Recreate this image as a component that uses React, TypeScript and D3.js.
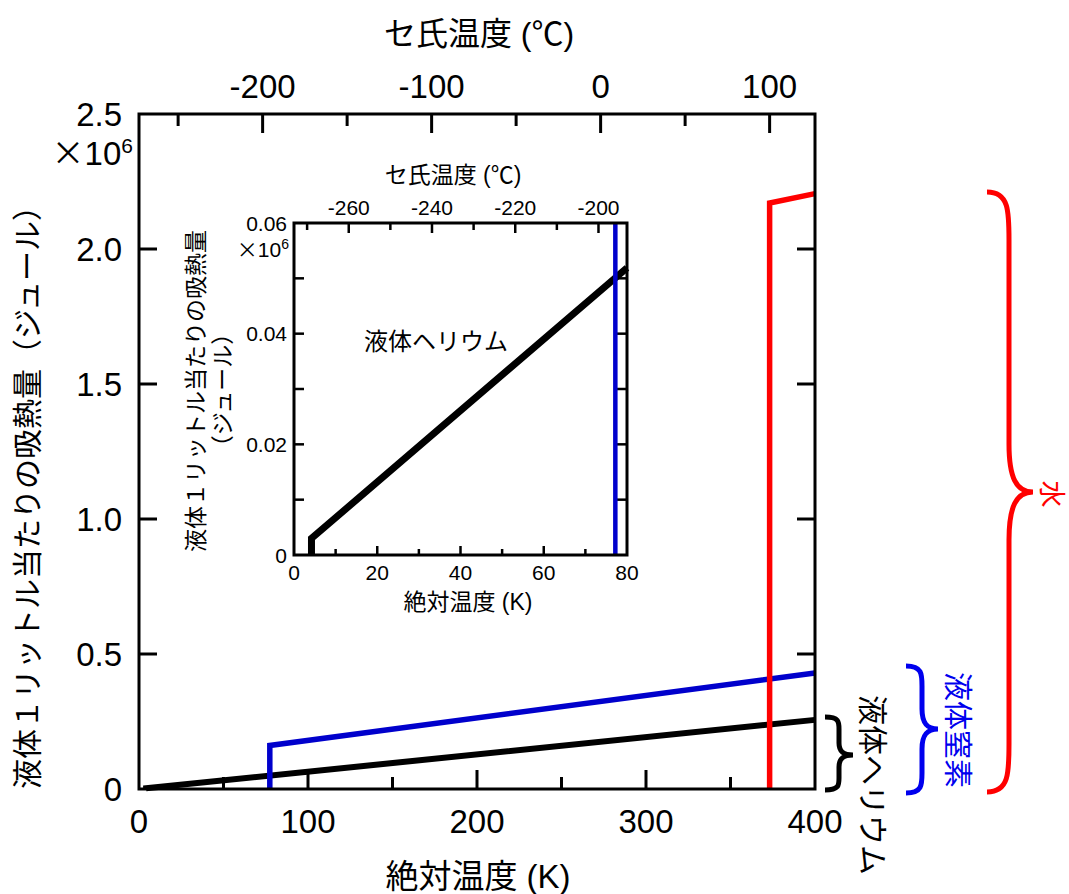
import React, { useEffect, useRef } from "react";
import * as d3 from "d3";

const W = 1069;
const H = 894;

// main chart series: [kelvin, joule (x10^6)]
const heliumMain: [number, number][] = [
  [4.2, 0],
  [4.2, 0.003],
  [400, 0.256],
];
const nitrogenMain: [number, number][] = [
  [77.4, 0],
  [77.4, 0.161],
  [400, 0.43],
];
const waterMain: [number, number][] = [
  [373.15, 0],
  [373.15, 2.17],
  [400, 2.205],
];

// inset series
const heliumInset: [number, number][] = [
  [4.2, 0],
  [4.2, 0.003],
  [80, 0.0519],
];
const nitrogenInset: [number, number][] = [
  [77.2, 0],
  [77.2, 0.06],
];

// tick values / labels
const mainYTicks = [0, 0.5, 1.0, 1.5, 2.0, 2.5];
const mainYLabels = ["0", "0.5", "1.0", "1.5", "2.0", "2.5"];
const mainXTicks = [0, 100, 200, 300, 400];
const mainCelsiusTicks = [-200, -100, 0, 100];
const insetXTicks = [0, 20, 40, 60, 80];
const insetYTicks = [0, 0.02, 0.04, 0.06];
const insetYLabels = ["0", "0.02", "0.04", "0.06"];
const insetCelsiusTicks = [-260, -240, -220, -200];

const FONT = "'Liberation Sans', Arial, 'Noto Sans CJK JP', sans-serif";
const CJK = "'Noto Sans CJK JP', sans-serif";
const K0 = 273.15;

type Sel = d3.Selection<SVGGElement, unknown, null, undefined>;

/**
 * draws a curly brace that opens to the left and points right
 */
const bracePath = (
  xl: number,
  xm: number,
  xr: number,
  y0: number,
  yt: number,
  y1: number,
  r: number
) => {
  const p = d3.path();
  p.moveTo(xl, y0);
  p.bezierCurveTo(xm, y0, xm, y0 + r * 0.4, xm, y0 + r);
  p.lineTo(xm, yt - r);
  p.bezierCurveTo(xm, yt - r * 0.3, xm + (xr - xm) * 0.3, yt, xr, yt);
  p.bezierCurveTo(xm + (xr - xm) * 0.3, yt, xm, yt + r * 0.3, xm, yt + r);
  p.lineTo(xm, y1 - r);
  p.bezierCurveTo(xm, y1 - r * 0.4, xm, y1, xl, y1);
  return p.toString();
};

const App = () => {
  const svgRef = useRef<SVGSVGElement>(null);

  useEffect(() => {
    const svg = d3.select(svgRef.current);
    svg.selectChildren().remove();
    const root: Sel = svg.append("g");

    // vertical / horizontal tick helper
    const ticks = (
      g: Sel,
      pos: number[],
      orient: "top" | "bottom" | "left" | "right",
      edge: number,
      len: number,
      sw: number
    ) => {
      g.append("g")
        .selectAll("line")
        .data(pos)
        .enter()
        .append("line")
        .attr("stroke", "black")
        .attr("stroke-width", sw)
        .attr("x1", (d) => (orient === "top" || orient === "bottom" ? d : edge))
        .attr("x2", (d) =>
          orient === "top" || orient === "bottom"
            ? d
            : orient === "left"
            ? edge + len
            : edge - len
        )
        .attr("y1", (d) => (orient === "left" || orient === "right" ? d : edge))
        .attr("y2", (d) =>
          orient === "left" || orient === "right"
            ? d
            : orient === "top"
            ? edge + len
            : edge - len
        );
    };

    // title with a wide ℃ sign
    const celsiusTitle = (g: Sel, cx: number, cy: number, fs: number) => {
      const t = g
        .append("text")
        .attr("x", cx)
        .attr("y", cy)
        .attr("text-anchor", "middle")
        .attr("font-size", fs);
      t.append("tspan").text("セ氏温度 (");
      t.append("tspan").attr("font-family", CJK).text("℃");
      t.append("tspan").text(")");
    };

    // "×10^6" multiplier
    const multiplier = (g: Sel, xr: number, yb: number, fs: number, sup: number, dy: number) => {
      const t = g
        .append("text")
        .attr("x", xr)
        .attr("y", yb)
        .attr("text-anchor", "end")
        .attr("font-size", fs);
      t.append("tspan").attr("font-family", CJK).text("×");
      t.append("tspan").text("10");
      t.append("tspan").attr("font-size", sup).attr("dy", dy).text("6");
    };

    // ---------------- main chart ----------------
    const m = { left: 139, right: 815, top: 114, bottom: 789 };
    const x = d3.scaleLinear().domain([0, 400]).range([m.left, m.right]);
    const y = d3.scaleLinear().domain([0, 2.5]).range([m.bottom, m.top]);
    const line = d3
      .line<[number, number]>()
      .x((d) => x(d[0]))
      .y((d) => y(d[1]));

    const main = root.append("g");

    // ticks
    ticks(main, [100, 200, 300].map(x), "bottom", m.bottom, 19, 3);
    ticks(main, [50, 150, 250, 350].map(x), "bottom", m.bottom, 12, 3);
    ticks(main, mainCelsiusTicks.map((c) => x(c + K0)), "top", m.top, 19, 3);
    ticks(main, d3.range(-250, 101, 100).map((c) => x(c + K0)), "top", m.top, 12, 3);
    const yInner = mainYTicks.slice(1, -1).map(y);
    ticks(main, yInner, "left", m.left, 18, 3);
    ticks(main, yInner, "right", m.right, 18, 3);

    // series
    main
      .append("path")
      .datum(heliumMain)
      .attr("fill", "none")
      .attr("stroke", "black")
      .attr("stroke-width", 6)
      .attr("d", line);
    main
      .append("path")
      .datum(nitrogenMain)
      .attr("fill", "none")
      .attr("stroke", "#0000cc")
      .attr("stroke-width", 5.5)
      .attr("d", line);
    main
      .append("path")
      .datum(waterMain)
      .attr("fill", "none")
      .attr("stroke", "#ff0000")
      .attr("stroke-width", 5.5)
      .attr("d", line);

    // frame
    main
      .append("rect")
      .attr("x", m.left)
      .attr("y", m.top)
      .attr("width", m.right - m.left)
      .attr("height", m.bottom - m.top)
      .attr("fill", "none")
      .attr("stroke", "black")
      .attr("stroke-width", 3);

    // tick labels
    main
      .append("g")
      .selectAll("text")
      .data(mainXTicks)
      .enter()
      .append("text")
      .attr("x", (d) => x(d))
      .attr("y", 833)
      .attr("text-anchor", "middle")
      .attr("font-size", 33)
      .text((d) => d);
    main
      .append("g")
      .selectAll("text")
      .data(mainCelsiusTicks)
      .enter()
      .append("text")
      .attr("x", (d) => x(d + K0))
      .attr("y", 98)
      .attr("text-anchor", "middle")
      .attr("font-size", 33)
      .text((d) => d);
    main
      .append("g")
      .selectAll("text")
      .data(mainYTicks)
      .enter()
      .append("text")
      .attr("x", 122)
      .attr("y", (d) => y(d))
      .attr("dy", "0.36em")
      .attr("text-anchor", "end")
      .attr("font-size", 33)
      .text((d, i) => mainYLabels[i]);

    multiplier(main, 133, 165, 33, 21, -12);

    // axis titles
    celsiusTitle(main, 479, 45, 32);
    main
      .append("text")
      .attr("x", 478)
      .attr("y", 888)
      .attr("text-anchor", "middle")
      .attr("font-size", 33)
      .text("絶対温度 (K)");
    main
      .append("text")
      .attr("transform", "translate(27,490) rotate(-90)")
      .attr("text-anchor", "middle")
      .attr("dominant-baseline", "central")
      .attr("font-size", 30)
      .text("液体１リットル当たりの吸熱量（ジュール）");

    // ---------------- inset ----------------
    const n = { left: 294, right: 627, top: 223, bottom: 555 };
    const xi = d3.scaleLinear().domain([0, 80]).range([n.left, n.right]);
    const yi = d3.scaleLinear().domain([0, 0.06]).range([n.bottom, n.top]);
    const lineI = d3
      .line<[number, number]>()
      .x((d) => xi(d[0]))
      .y((d) => yi(d[1]));

    const inset = root.append("g");
    ticks(inset, [20, 40, 60].map(xi), "bottom", n.bottom, 9, 2.5);
    ticks(inset, [10, 30, 50, 70].map(xi), "bottom", n.bottom, 6, 2.5);
    ticks(inset, insetCelsiusTicks.map((c) => xi(c + K0)), "top", n.top, 10, 2.5);
    ticks(inset, d3.range(-270, -200, 20).map((c) => xi(c + K0)), "top", n.top, 7, 2.5);
    const yiTicks = d3.range(1, 6).map((v) => yi(v * 0.01));
    ticks(inset, yiTicks, "left", n.left, 10, 2.5);
    ticks(inset, yiTicks, "right", n.right, 10, 2.5);

    inset
      .append("path")
      .datum(heliumInset)
      .attr("fill", "none")
      .attr("stroke", "black")
      .attr("stroke-width", 7)
      .attr("d", lineI);
    inset
      .append("path")
      .datum(nitrogenInset)
      .attr("fill", "none")
      .attr("stroke", "#0000cc")
      .attr("stroke-width", 4.5)
      .attr("d", lineI);

    inset
      .append("rect")
      .attr("x", n.left)
      .attr("y", n.top)
      .attr("width", n.right - n.left)
      .attr("height", n.bottom - n.top)
      .attr("fill", "none")
      .attr("stroke", "black")
      .attr("stroke-width", 3);

    inset
      .append("g")
      .selectAll("text")
      .data(insetXTicks)
      .enter()
      .append("text")
      .attr("x", (d) => xi(d))
      .attr("y", 580)
      .attr("text-anchor", "middle")
      .attr("font-size", 21)
      .text((d) => d);
    inset
      .append("g")
      .selectAll("text")
      .data(insetCelsiusTicks)
      .enter()
      .append("text")
      .attr("x", (d) => xi(d + K0))
      .attr("y", 215)
      .attr("text-anchor", "middle")
      .attr("font-size", 21)
      .text((d) => d);
    inset
      .append("g")
      .selectAll("text")
      .data(insetYTicks)
      .enter()
      .append("text")
      .attr("x", 287)
      .attr("y", (d) => yi(d))
      .attr("dy", "0.36em")
      .attr("text-anchor", "end")
      .attr("font-size", 21)
      .text((d, i) => insetYLabels[i]);

    multiplier(inset, 289, 257, 21, 14, -8);

    celsiusTitle(inset, 453, 183, 23);
    inset
      .append("text")
      .attr("x", 468)
      .attr("y", 610)
      .attr("text-anchor", "middle")
      .attr("font-size", 23)
      .text("絶対温度 (K)");
    inset
      .append("text")
      .attr("transform", "translate(196,391) rotate(-90)")
      .attr("text-anchor", "middle")
      .attr("dominant-baseline", "central")
      .attr("font-size", 23)
      .text("液体１リットル当たりの吸熱量");
    inset
      .append("text")
      .attr("transform", "translate(223,390) rotate(-90)")
      .attr("text-anchor", "middle")
      .attr("dominant-baseline", "central")
      .attr("font-size", 23)
      .text("（ジュール）");
    inset
      .append("text")
      .attr("x", 436)
      .attr("y", 350)
      .attr("text-anchor", "middle")
      .attr("font-size", 24)
      .text("液体ヘリウム");

    // ---------------- braces + labels ----------------
    const braces = [
      { c: "black", d: bracePath(825, 839, 853, 717, 755, 790, 12), lab: "液体ヘリウム", lx: 872, ly: 785, fs: 30 },
      { c: "#0000ee", d: bracePath(906, 922, 938, 666, 729, 793, 20), lab: "液体窒素", lx: 957, ly: 730, fs: 29 },
      { c: "#ff0000", d: bracePath(987, 1009, 1033, 192, 492, 792, 48), lab: "水", lx: 1051, ly: 494, fs: 27 },
    ];
    const bg = root.append("g");
    braces.forEach((b) => {
      bg.append("path")
        .attr("d", b.d)
        .attr("fill", "none")
        .attr("stroke", b.c)
        .attr("stroke-width", 5)
        .attr("stroke-linecap", "butt");
      bg.append("text")
        .attr("transform", `translate(${b.lx},${b.ly}) rotate(90)`)
        .attr("text-anchor", "middle")
        .attr("dominant-baseline", "central")
        .attr("font-size", b.fs)
        .attr("fill", b.c)
        .text(b.lab);
    });
  }, []);

  return (
    <svg
      ref={svgRef}
      width={W}
      height={H}
      style={{ position: "absolute", left: 0, top: 0, background: "white" }}
      fontFamily={FONT}
    ></svg>
  );
};

export default App;
